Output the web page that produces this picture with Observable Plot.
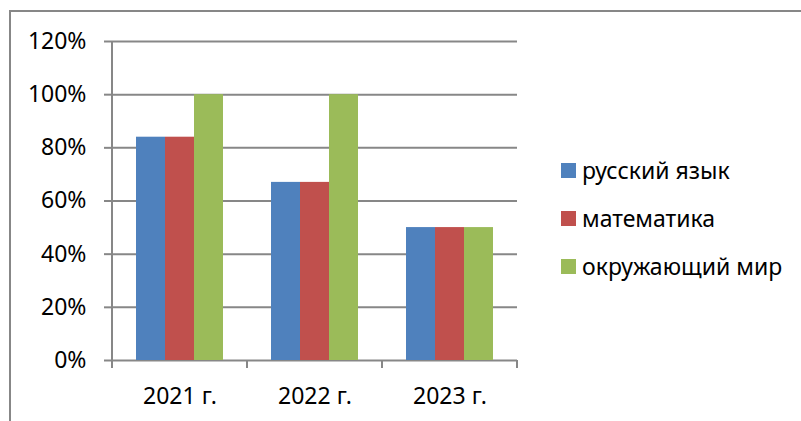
<!DOCTYPE html>
<html><head><meta charset="utf-8">
<script src="https://cdn.jsdelivr.net/npm/d3@7"></script>
<script src="https://cdn.jsdelivr.net/npm/@observablehq/plot@0.6"></script>
<style>
html,body{margin:0;padding:0;background:#fff;overflow:hidden}
#wrap{position:relative;width:801px;height:421px;overflow:hidden;font-family:"Noto Sans",sans-serif}
#border{position:absolute;left:9px;top:10px;width:1000px;height:1000px;border:2px solid #878787;box-sizing:border-box}
#chart{position:absolute;left:0;top:0}
.sw{position:absolute;width:15px;height:15px}
.lt{position:absolute;font-size:23px;line-height:23px;white-space:nowrap;color:#000}
</style></head>
<body><div id="wrap"><div id="border"></div><div id="chart"></div><div id="legend"></div></div>
<script>
const years = ["2021 г.", "2022 г.", "2023 г."];
const subjects = ["русский язык", "математика", "окружающий мир"];
const russian = [0.84, 0.67, 0.50];
const math = [0.84, 0.67, 0.50];
const world = [1.00, 1.00, 0.50];
const colors = ["#4F81BD", "#C0504D", "#9BBB59"];
const yTicks = [0, 0.2, 0.4, 0.6, 0.8, 1.0, 1.2];

const series = [russian, math, world];
const data = years.flatMap((yr, i) => subjects.map((s, j) => ({year: yr, subject: s, value: series[j][i]})));

const grey = "#878787";
const chart = Plot.plot({
  width: 801, height: 421,
  marginLeft: 111, marginRight: 283, marginTop: 41, marginBottom: 61,
  style: {fontFamily: "Noto Sans", fontSize: "23px", color: "#000", background: "transparent"},
  fx: {domain: years, padding: 0, label: null},
  x: {domain: subjects, paddingInner: 0, paddingOuter: 0.761, axis: null},
  y: {domain: [0, 1.2], label: null},
  color: {domain: subjects, range: colors},
  marks: [
    Plot.ruleY(yTicks, {stroke: grey, strokeWidth: 2}),
    Plot.barY(data, {fx: "year", x: "subject", y: "value", fill: "subject"}),
    Plot.axisY(yTicks, {tickSize: 8, tickPadding: 18, tickFormat: d3.format(".0%"), stroke: grey, strokeWidth: 2, fill: "#000", fontSize: 23, label: null}),
    Plot.axisFx({anchor: "bottom", tickSize: 0, tickPadding: 27, fontSize: 23, fill: "#000", label: null})
  ]
});
document.getElementById("chart").appendChild(chart);

// axis line and category boundary ticks, from the plot's own scales
const fx = chart.scale("fx"), ys = chart.scale("y");
const svg = d3.select(chart.tagName.toLowerCase() === "svg" ? chart : chart.querySelector("svg"));
const g = svg.append("g").attr("stroke", grey).attr("stroke-width", 2);
const y0 = ys.apply(0), yTop = ys.apply(1.2);
const left = fx.apply(years[0]);
g.append("line").attr("x1", left).attr("x2", left).attr("y1", yTop).attr("y2", y0 + 8);
years.forEach(yr => {
  const xb = fx.apply(yr) + fx.bandwidth;
  g.append("line").attr("x1", xb).attr("x2", xb).attr("y1", y0).attr("y2", y0 + 8);
});

// legend
const col = chart.scale("color");
const legend = d3.select("#legend");
subjects.forEach((s, i) => {
  const base = 179.3 + i * 48;
  legend.append("div").attr("class", "sw")
    .style("left", "561px").style("top", (base - 16.5) + "px")
    .style("background", col.apply(s));
  legend.append("div").attr("class", "lt")
    .style("left", "582px").style("top", (base - 20.4) + "px")
    .text(s);
});
</script>
</body></html>
